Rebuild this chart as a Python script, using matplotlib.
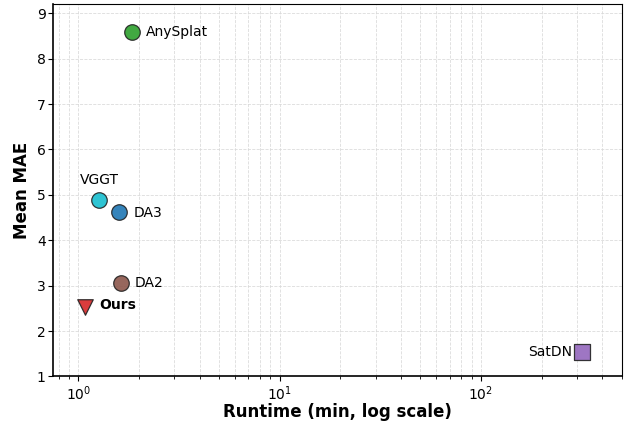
import matplotlib
matplotlib.use("Agg")
import matplotlib.pyplot as plt

methods = ["AnySplat", "VGGT", "DA3", "DA2", "Ours", "SatDN"]
runtime_min = [1.85, 1.27, 1.6, 1.62, 1.08, 316]
mean_mae = [8.58, 4.89, 4.63, 3.07, 2.52, 1.55]
colors = ["#2ca02c", "#17becf", "#1f77b4", "#8c564b", "#d62728", "#9467bd"]
markers = ["o", "o", "o", "o", "v", "s"]
# label offsets in points (dx, dy, ha)
offsets = [(10, 0, "left"), (0, 14, "center"), (10, -1, "left"), (10, 0, "left"),
           (10, 2, "left"), (-7, 0, "right")]


def main():
    fig, ax = plt.subplots(figsize=(6.26, 4.23), dpi=100)
    for name, x, y, c, m, (dx, dy, ha) in zip(methods, runtime_min, mean_mae, colors, markers, offsets):
        ax.scatter(x, y, s=125, c=c, marker=m, edgecolors="#222222", linewidths=0.9,
                   alpha=0.9, zorder=3)
        ax.annotate(name, (x, y), xytext=(dx, dy), textcoords="offset points",
                    ha=ha, va="center", fontsize=10,
                    fontweight="bold" if name == "Ours" else "normal")

    ax.set_xscale("log")
    ax.set_xlim(0.75, 500)
    ax.set_ylim(1, 9.2)
    ax.set_yticks(range(1, 10))
    ax.grid(True, which="both", linestyle="--", linewidth=0.6, color="#d8d8d8", alpha=0.9)
    ax.set_axisbelow(True)
    for side in ["left", "bottom"]:
        ax.spines[side].set_linewidth(1.2)
    ax.set_xlabel("Runtime (min, log scale)", fontsize=12, fontweight="bold", labelpad=0)
    ax.set_ylabel("Mean MAE", fontsize=12, fontweight="bold", labelpad=4)
    ax.tick_params(labelsize=10, length=3.5, pad=2)
    ax.tick_params(which="minor", length=2)
    fig.subplots_adjust(left=0.085, right=0.993, top=0.99, bottom=0.11)
    plt.savefig("out.png")


if __name__ == "__main__":
    main()
